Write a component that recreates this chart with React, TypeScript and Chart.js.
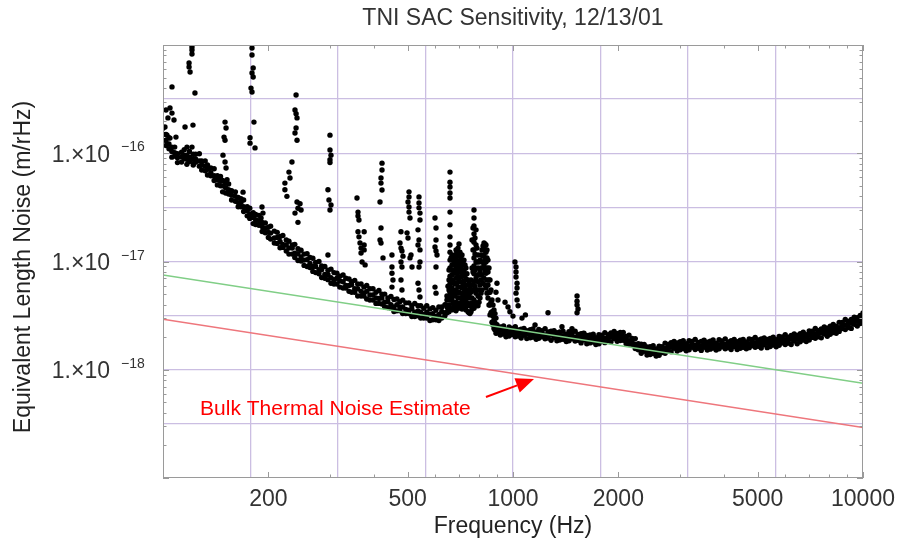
import React, { useEffect, useRef } from "react";
import { Chart, registerables } from "chart.js";

Chart.register(...registerables);

const FONT = '"Liberation Sans", Arial, Helvetica, sans-serif';
// all noise values below are in units of 1e-18 m/rHz
const NOISE_UNIT = 1e-18;

const chartTitle = "TNI SAC Sensitivity, 12/13/01";
const xAxisTitle = "Frequency (Hz)";
const yAxisTitle = "Equivalent Length Noise (m/rHz)";

const xMin = 100;
const xMax = 10000;
const yMin = 1e-19;
const yMax = 1e-15;
const xLabelValues = [200, 500, 1000, 2000, 5000, 10000];
const xGridValues = [177.83, 316.23, 562.34, 1000, 1778.3, 3162.3, 5623.4];
const yGridValues = [3.1623e-19, 1e-18, 3.1623e-18, 1e-17, 3.1623e-17, 1e-16, 3.1623e-16];
const yLabelValues = [1e-16, 1e-17, 1e-18];
const tickMantissas = [1, 2, 3, 4, 5, 6, 7, 8, 9];
const xDecades = [100, 1000, 10000];
const yDecades = [1e-19, 1e-18, 1e-17, 1e-16, 1e-15];

// model lines (in NOISE_UNIT)
const modelFreq = [100, 10000];
const fitNoise = [7.5, 0.75];
const bulkThermalNoise = [2.93, 0.293];

// annotation
const annotationText = "Bulk Thermal Noise Estimate";
const annotationAt = { freq: 127.6, noise: 0.382 };
const arrowFrom = { freq: 837, noise: 0.56 };
const arrowTo = { freq: 1148, noise: 0.82 };

// measured noise floor, 100-200 Hz (three readings per bin)
const lowFreq = [100, 102, 104, 106, 108, 110, 113, 115, 117, 119, 122, 124, 127, 129, 132, 134, 137, 140, 143, 146, 148, 151, 154, 157, 161, 164, 167, 170, 174, 177, 181, 184, 188, 192, 196, 200];
const lowUpper = [170, 149, 139, 114, 114, 99, 102, 108, 96, 104, 98, 98, 99, 85, 85, 78, 73, 72, 62, 61, 56, 53, 52, 45, 44, 39, 38, 37, 32, 31, 28.3, 27.2, 26.7, 22.9, 22.7, 20.7];
const lowCenter = [150, 131, 122, 104, 101, 91, 93, 96, 88, 92, 89, 88, 85, 78, 76, 71, 66, 62, 57, 55, 50, 48, 46, 41, 40, 35, 35, 32, 29.5, 27.5, 25.5, 24.3, 23.8, 21, 20.2, 18.6];
const lowLower = [132, 118, 110, 92, 94, 82, 83, 89, 79, 84, 78, 83, 76, 70, 69, 63, 62, 56, 51, 50, 44, 43, 42, 37, 36, 32, 32, 29, 26.4, 25, 22.4, 22, 21.6, 18.9, 18.4, 16.7];

// measured noise floor, 200-640 Hz (three readings per bin)
const midFreq = [203, 208, 212, 216, 220, 225, 229, 234, 238, 243, 248, 253, 258, 263, 268, 273, 279, 284, 290, 296, 302, 308, 314, 320, 327, 333, 340, 346, 353, 360, 368, 375, 382, 390, 398, 406, 414, 422, 430, 439, 448, 457, 466, 475, 484, 494, 504, 514, 524, 535, 545, 556, 567, 579, 590, 602, 614, 626, 639];
const midUpper = [21.2, 19.1, 18.6, 17.0, 17.4, 15.8, 15.4, 14.2, 14.4, 13.1, 12.7, 11.7, 11.8, 10.9, 10.7, 9.8, 10.0, 9.1, 9.0, 8.3, 8.5, 7.9, 7.8, 7.3, 7.5, 7.0, 6.9, 6.5, 6.7, 6.2, 6.2, 5.8, 6.0, 5.6, 5.6, 5.2, 5.4, 5.0, 5.0, 4.6, 4.75, 4.45, 4.5, 4.25, 4.4, 4.15, 4.15, 3.9, 4.1, 3.9, 3.9, 3.7, 3.9, 3.65, 3.75, 3.55, 3.8, 3.8, 4.0];
const midCenter = [18.3, 16.5, 16.7, 15.3, 14.4, 14.2, 13.3, 13.3, 11.9, 11.8, 11.0, 10.3, 10.4, 9.6, 9.0, 9.0, 8.4, 8.4, 7.6, 7.6, 7.1, 6.8, 7.0, 6.6, 6.5, 6.0, 6.0, 6.1, 5.6, 5.6, 5.3, 5.1, 5.3, 4.9, 4.9, 4.6, 4.55, 4.6, 4.2, 4.25, 4.0, 3.8, 4.0, 3.8, 3.8, 3.6, 3.55, 3.65, 3.4, 3.5, 3.4, 3.25, 3.4, 3.25, 3.3, 3.1, 3.25, 3.45, 3.35];
const midLower = [16.1, 14.8, 14.7, 13.4, 13.5, 12.5, 11.7, 11.7, 10.9, 10.2, 10.1, 9.2, 9.0, 8.8, 8.1, 7.9, 7.7, 7.1, 7.0, 6.8, 6.3, 6.2, 6.2, 5.8, 5.7, 5.7, 5.3, 5.2, 5.2, 4.8, 4.8, 4.8, 4.5, 4.4, 4.4, 4.1, 4.1, 4.05, 3.8, 3.75, 3.7, 3.45, 3.5, 3.5, 3.3, 3.3, 3.3, 3.1, 3.1, 3.15, 3.0, 3.0, 3.0, 2.85, 2.9, 2.9, 2.85, 3.0, 3.15];

// measured noise floor, 900 Hz - 10 kHz (three readings per bin)
const highFreq = [900, 920, 940, 955, 975, 995, 1015, 1035, 1055, 1075, 1095, 1120, 1140, 1165, 1185, 1210, 1235, 1260, 1285, 1310, 1335, 1360, 1390, 1420, 1445, 1475, 1505, 1535, 1565, 1595, 1625, 1660, 1695, 1725, 1760, 1795, 1830, 1870, 1905, 1945, 1985, 2025, 2065, 2105, 2145, 2190, 2235, 2280, 2325, 2370, 2415, 2465, 2515, 2565, 2615, 2665, 2720, 2775, 2830, 2885, 2945, 3005, 3065, 3125, 3185, 3250, 3315, 3380, 3450, 3515, 3590, 3660, 3730, 3805, 3880, 3960, 4040, 4120, 4200, 4285, 4370, 4460, 4545, 4640, 4730, 4825, 4920, 5020, 5120, 5220, 5325, 5430, 5540, 5650, 5760, 5880, 5995, 6115, 6235, 6360, 6485, 6615, 6750, 6885, 7020, 7160, 7305, 7450, 7600, 7750, 7905, 8060, 8220, 8385, 8550, 8725, 8900, 9075, 9255, 9440, 9630, 9820, 10000];
const highUpper = [2.61, 2.48, 2.54, 2.35, 2.48, 2.41, 2.5, 2.33, 2.37, 2.41, 2.3, 2.34, 2.38, 2.22, 2.36, 2.3, 2.39, 2.23, 2.27, 2.3, 2.2, 2.23, 2.27, 2.12, 2.25, 2.19, 2.27, 2.12, 2.15, 2.18, 2.07, 2.1, 2.13, 1.98, 2.11, 2.08, 2.2, 2.11, 2.19, 2.26, 2.17, 2.21, 2.21, 2.03, 2.08, 1.95, 1.94, 1.74, 1.72, 1.71, 1.62, 1.63, 1.67, 1.56, 1.65, 1.63, 1.76, 1.71, 1.78, 1.83, 1.77, 1.82, 1.86, 1.74, 1.86, 1.83, 1.91, 1.79, 1.83, 1.87, 1.8, 1.84, 1.88, 1.76, 1.89, 1.85, 1.93, 1.81, 1.86, 1.9, 1.82, 1.87, 1.91, 1.81, 1.93, 1.9, 1.99, 1.88, 1.93, 1.97, 1.9, 1.95, 2.0, 1.89, 2.03, 2.01, 2.11, 2.0, 2.07, 2.14, 2.07, 2.15, 2.22, 2.11, 2.28, 2.27, 2.41, 2.29, 2.38, 2.48, 2.42, 2.53, 2.62, 2.52, 2.74, 2.73, 2.91, 2.79, 2.92, 3.06, 3.02, 3.17, 3.34];
const highCenter = [2.38, 2.3, 2.31, 2.2, 2.24, 2.28, 2.22, 2.2, 2.17, 2.21, 2.14, 2.12, 2.17, 2.06, 2.13, 2.18, 2.1, 2.08, 2.1, 2.11, 2.03, 2.06, 2.05, 1.98, 2.04, 2.04, 2.0, 1.98, 1.97, 2.0, 1.9, 1.92, 1.96, 1.85, 1.9, 1.93, 1.95, 1.99, 2.0, 2.06, 2.02, 2.03, 2.0, 1.9, 1.86, 1.8, 1.72, 1.62, 1.57, 1.58, 1.5, 1.49, 1.52, 1.46, 1.48, 1.52, 1.57, 1.6, 1.63, 1.68, 1.64, 1.66, 1.7, 1.63, 1.67, 1.7, 1.69, 1.67, 1.66, 1.72, 1.66, 1.68, 1.72, 1.65, 1.7, 1.73, 1.71, 1.69, 1.7, 1.75, 1.68, 1.71, 1.76, 1.69, 1.74, 1.77, 1.78, 1.76, 1.75, 1.82, 1.76, 1.8, 1.83, 1.78, 1.84, 1.88, 1.89, 1.9, 1.91, 1.97, 1.93, 1.99, 2.03, 2.0, 2.08, 2.12, 2.15, 2.16, 2.2, 2.28, 2.26, 2.34, 2.38, 2.37, 2.45, 2.54, 2.6, 2.64, 2.69, 2.8, 2.8, 2.9, 3.05];
const highLower = [2.2, 2.09, 2.14, 2.02, 2.05, 2.12, 2.02, 2.05, 1.96, 2.08, 1.94, 1.97, 2.0, 1.91, 1.95, 2.02, 1.93, 1.96, 1.87, 1.98, 1.85, 1.88, 1.91, 1.82, 1.85, 1.93, 1.84, 1.87, 1.77, 1.88, 1.74, 1.77, 1.8, 1.71, 1.74, 1.83, 1.78, 1.86, 1.81, 1.94, 1.83, 1.86, 1.87, 1.74, 1.72, 1.71, 1.57, 1.53, 1.42, 1.48, 1.37, 1.38, 1.41, 1.34, 1.36, 1.44, 1.42, 1.5, 1.47, 1.58, 1.49, 1.53, 1.57, 1.5, 1.53, 1.61, 1.54, 1.58, 1.51, 1.61, 1.52, 1.55, 1.59, 1.52, 1.56, 1.63, 1.56, 1.6, 1.54, 1.64, 1.54, 1.58, 1.61, 1.56, 1.6, 1.67, 1.61, 1.65, 1.59, 1.7, 1.6, 1.64, 1.69, 1.63, 1.68, 1.77, 1.71, 1.76, 1.71, 1.84, 1.74, 1.81, 1.88, 1.82, 1.88, 1.99, 1.95, 2.02, 1.97, 2.14, 2.04, 2.13, 2.21, 2.17, 2.26, 2.4, 2.35, 2.46, 2.41, 2.63, 2.54, 2.67, 2.81];

// resonance cluster 640-900 Hz: readings per bin
const peakFreq = [643.4, 647.6, 652, 656.3, 660.7, 665, 669.4, 673.7, 678.2, 682.7, 687.3, 691.8, 696.4, 701, 705.6, 710.3, 715, 719.7, 724.4, 729.2, 734, 738.8, 743.7, 748.6, 753.6, 758.6, 763.6, 768.6, 773.7, 778.8, 784, 789.1, 794.3, 799.6, 804.8, 810.2, 815.5, 820.9, 826.3, 831.7, 837.2, 842.7, 848.3, 853.9, 859.5, 865.2, 871, 876.7, 882.5, 888.3, 894.2];
const peakNoise = [
  [3.97, 3.36],
  [4.8, 4.41, 3.8, 3.36],
  [5.9, 4.6, 3.57],
  [8.35, 6.75, 5.46, 3.97, 3.43],
  [67, 54, 48.8, 42.9, 38.6, 28.6, 21.8, 16.9, 14.2, 12.2, 10.3, 8.7, 7.3, 6.2, 5.2, 4.41, 3.7],
  [10.8, 8.35, 6.5, 4.8, 3.64],
  [11.5, 9.3, 7.5, 5.7, 4.41, 3.57],
  [10.8, 8.35, 6.75, 5.2, 4.1],
  [9.9, 8.0, 6.3, 4.9, 3.9],
  [11.5, 9.5, 7.8, 6.2, 4.8, 3.8],
  [12.8, 10.8, 8.7, 7.0, 5.46, 4.2, 3.5],
  [12.2, 9.9, 8.0, 6.3, 5.1, 4.05],
  [13.3, 11.2, 9.1, 7.3, 5.8, 4.6, 3.7],
  [14.5, 11.9, 10.1, 8.35, 6.75, 5.2, 4.1],
  [12.2, 9.9, 8.0, 6.5, 5.1, 4.05],
  [10.8, 8.7, 7.2, 5.8, 4.6, 3.7],
  [11.5, 9.3, 7.3, 5.7, 4.41, 3.64],
  [9.9, 7.8, 6.2, 4.8, 3.9],
  [10.3, 8.35, 6.6, 5.2, 4.1],
  [9.3, 7.5, 5.9, 4.7, 3.7],
  [8.7, 6.9, 5.46, 4.41, 3.57],
  [7.7, 6.07, 4.8, 3.9],
  [6.75, 5.2, 4.1, 3.43],
  [6.2, 4.9, 3.97, 3.36],
  [5.7, 4.6, 3.9, 3.3],
  [6.75, 5.2, 4.1, 3.43],
  [15.8, 8.7, 6.07, 4.6, 3.64],
  [20.4, 12.8, 8.0, 5.46, 4.05],
  [29.9, 25.2, 21.3, 18.0, 15.1, 12.8, 10.8, 9.1, 7.7, 6.5, 5.46, 4.41, 3.7],
  [16.5, 11.7, 8.35, 5.9, 4.2],
  [19.6, 14.2, 9.9, 7.0, 5.1, 3.9],
  [13.3, 9.9, 7.5, 5.46, 4.1],
  [11.5, 8.7, 6.5, 4.8, 3.9],
  [9.9, 7.5, 5.46, 4.2],
  [10.3, 8.0, 6.07, 4.6],
  [11.5, 8.7, 6.75, 5.1],
  [12.8, 9.9, 7.5, 5.46],
  [13.9, 11.2, 8.7, 6.3],
  [14.8, 13.3, 11.5, 9.3, 7.0],
  [14.5, 12.8, 10.3, 8.0, 6.07],
  [14.2, 12.2, 9.9, 7.8, 5.7],
  [12.8, 10.8, 8.7, 6.75, 5.1],
  [10.3, 8.0, 6.07, 4.6],
  [8.7, 6.75, 5.2, 3.97],
  [6.75, 5.2, 3.97, 3.21],
  [5.46, 4.2, 3.36],
  [4.41, 3.43, 2.75],
  [3.97, 3.13, 2.59],
  [3.57, 2.89, 2.4],
  [3.3, 2.7, 2.33],
  [3.0, 2.5, 2.17],
];

// power-line harmonics and outliers: readings per bin
const spikeFreq = [101.3, 102, 102.7, 103.3, 104.7, 106.1, 107.5, 108.9, 115.6, 117.1, 121.8, 121, 118.7, 119.5, 123.4, 122.6, 179.6, 181, 178.4, 181.9, 177.3, 183.2, 150.4, 151.4, 149.4, 148.4, 152.4, 169.3, 191.8, 193, 190.6, 240, 238.3, 241.5, 233.6, 229, 230.6, 223, 226, 243, 246.3, 248, 300, 302, 296, 298, 358.3, 360.7, 363, 365.5, 368, 370.5, 375.6, 378, 422.4, 419.6, 416.9, 425.2, 451, 454, 478.6, 475.5, 481.7, 484.9, 504.5, 501.2, 507.8, 498, 511.2, 514.6, 538.8, 542.3, 535.3, 598.6, 602.6, 606.6, 900, 894, 906, 949, 1013, 1020, 1027, 1034, 967.7, 980, 1000, 1061, 1085, 1156, 1259, 1380, 1524, 1534, 1474, 1585];
const spikeNoise = [
  [175], [251], [147], [212], [262, 138], [410, 235], [203], [141], [175], [114], [182],
  [958, 899, 826, 114], [682, 626], [563], [360], [81],
  [938, 808, 551, 368], [614, 506], [400], [194], [139, 124], [112],
  [194, 132, 83], [171, 73], [141], [96], [57],
  [43.7], [31.9], [28], [25.2],
  [345, 232, 171], [251, 154, 28], [212, 132, 35.5], [83], [67], [59], [53, 46], [40], [31, 23], [34.2], [29.9],
  [147, 107, 87, 82, 29.9], [96, 33.3], [46, 11.5], [37],
  [38.6], [28.6, 26.3, 18.8], [24.2, 16.9], [14.8], [13.3, 12.0], [9.9], [18.8, 14.2, 12.8], [9.3],
  [81, 70, 45.8], [59, 53, 20.4, 14.8], [35.5, 15.8], [10.8],
  [11.5, 8.9, 7.8, 5.8], [6.75],
  [18.8, 13.3, 9.9, 6.75], [14.8], [12.5, 8.9, 5.46], [11.2],
  [44, 39.5, 31.9, 28.6], [35.5, 16.5], [25.2, 10.8], [18.4], [11.5], [8.9],
  [39.5, 34.7, 31.3, 15.8, 8.9, 5.46], [28, 24.2, 12.8, 9.9, 4.7], [19.6, 14.2, 6.3],
  [25.2, 13.6, 5.8], [20.4, 15.8, 12.5, 8.9, 5.1], [11.5],
  [6.3], [5.2], [4.41], [4.2], [9.9], [8.9, 8.0, 7.2, 5.1], [6.3, 5.7, 4.41], [3.9], [3.8], [3.43], [3.13], [3.0], [3.21], [2.59], [3.36], [2.5],
  [4.8, 4.3, 3.97, 3.36], [3.64], [2.4], [2.17],
];

const GRID = "rgb(203,190,226)";
const FRAME = "#9a9a9a";
const GREEN = "rgb(128,206,134)";
const RED = "rgb(238,118,124)";

type Pt = { x: number; y: number };

function buildMeasured(): Pt[] {
  const pts: Pt[] = [];
  const add = (f: number, v: number) => pts.push({ x: f, y: v * NOISE_UNIT });
  lowFreq.forEach((f, i) => { add(f, lowUpper[i]); add(f, lowCenter[i]); add(f, lowLower[i]); });
  midFreq.forEach((f, i) => { add(f, midUpper[i]); add(f, midCenter[i]); add(f, midLower[i]); });
  highFreq.forEach((f, i) => { add(f, highUpper[i]); add(f, highCenter[i]); add(f, highLower[i]); });
  peakFreq.forEach((f, i) => peakNoise[i].forEach((v) => add(f, v)));
  spikeFreq.forEach((f, i) => spikeNoise[i].forEach((v) => add(f, v)));
  return pts;
}

const decorations = {
  id: "decorations",
  afterDraw(chart: any) {
    const { ctx, chartArea: a, scales } = chart;
    const xs = scales.x;
    const ys = scales.y;
    ctx.save();
    // frame
    ctx.strokeStyle = FRAME;
    ctx.lineWidth = 1;
    ctx.strokeRect(a.left + 0.5, a.top + 0.5, a.right - a.left - 1, a.bottom - a.top - 1);
    // frame ticks
    ctx.beginPath();
    xDecades.forEach((d) => {
      tickMantissas.forEach((m) => {
        const v = d * m;
        if (v < xMin || v > xMax) return;
        const px = Math.round(xs.getPixelForValue(v)) + 0.5;
        const len = xLabelValues.includes(v) ? 6 : 3.5;
        ctx.moveTo(px, a.bottom);
        ctx.lineTo(px, a.bottom - len);
        ctx.moveTo(px, a.top);
        ctx.lineTo(px, a.top + len);
      });
    });
    yDecades.forEach((d) => {
      tickMantissas.forEach((m) => {
        const v = d * m;
        if (v < yMin * 0.999 || v > yMax * 1.001) return;
        const py = Math.round(ys.getPixelForValue(v)) + 0.5;
        const len = m === 1 ? 6 : 3.5;
        ctx.moveTo(a.left, py);
        ctx.lineTo(a.left + len, py);
        ctx.moveTo(a.right, py);
        ctx.lineTo(a.right - len, py);
      });
    });
    ctx.stroke();

    // y tick labels: 1.x10^-n
    ctx.fillStyle = "#333";
    yLabelValues.forEach((v) => {
      const py = ys.getPixelForValue(v);
      const exp = Math.round(Math.log10(v));
      ctx.font = `23px ${FONT}`;
      ctx.textAlign = "right";
      ctx.textBaseline = "alphabetic";
      ctx.fillText("1.\u00d710", a.left - 53, py + 8.3);
      ctx.font = `14px ${FONT}`;
      ctx.textAlign = "left";
      ctx.fillText(`\u2212${-exp}`, a.left - 42, py - 2);
    });

    // y axis title
    ctx.save();
    ctx.translate(23.5, 267);
    ctx.rotate(-Math.PI / 2);
    ctx.font = `23px ${FONT}`;
    ctx.fillStyle = "#222";
    ctx.textAlign = "center";
    ctx.textBaseline = "middle";
    ctx.fillText(yAxisTitle, 0, 0);
    ctx.restore();

    // annotation
    ctx.fillStyle = "#ff0000";
    ctx.strokeStyle = "#ff0000";
    ctx.font = `21px ${FONT}`;
    ctx.textAlign = "left";
    ctx.textBaseline = "alphabetic";
    ctx.fillText(
      annotationText,
      xs.getPixelForValue(annotationAt.freq),
      ys.getPixelForValue(annotationAt.noise * NOISE_UNIT)
    );
    const x0 = xs.getPixelForValue(arrowFrom.freq);
    const y0 = ys.getPixelForValue(arrowFrom.noise * NOISE_UNIT);
    const x1 = xs.getPixelForValue(arrowTo.freq);
    const y1 = ys.getPixelForValue(arrowTo.noise * NOISE_UNIT);
    const ang = Math.atan2(y1 - y0, x1 - x0);
    const hl = 18;
    const hw = 7.5;
    const bx = x1 - hl * Math.cos(ang);
    const by = y1 - hl * Math.sin(ang);
    ctx.lineWidth = 2;
    ctx.beginPath();
    ctx.moveTo(x0, y0);
    ctx.lineTo(bx, by);
    ctx.stroke();
    ctx.beginPath();
    ctx.moveTo(x1, y1);
    ctx.lineTo(bx + hw * Math.sin(ang), by - hw * Math.cos(ang));
    ctx.lineTo(bx - hw * Math.sin(ang), by + hw * Math.cos(ang));
    ctx.closePath();
    ctx.fill();
    ctx.restore();
  },
};

export default function App() {
  const ref = useRef<HTMLCanvasElement | null>(null);

  useEffect(() => {
    if (!ref.current) return;
    const xTickValues = Array.from(new Set([...xGridValues, ...xLabelValues])).sort((p, q) => p - q);
    const chart = new Chart(ref.current, {
      type: "scatter",
      data: {
        datasets: [
          {
            label: "Fit",
            data: modelFreq.map((f, i) => ({ x: f, y: fitNoise[i] * NOISE_UNIT })),
            showLine: true,
            borderColor: GREEN,
            backgroundColor: GREEN,
            borderWidth: 1.5,
            pointRadius: 0,
            order: 0,
          },
          {
            label: "Bulk Thermal Noise Estimate",
            data: modelFreq.map((f, i) => ({ x: f, y: bulkThermalNoise[i] * NOISE_UNIT })),
            showLine: true,
            borderColor: RED,
            backgroundColor: RED,
            borderWidth: 1.5,
            pointRadius: 0,
            order: 0,
          },
          {
            label: "Measured",
            data: buildMeasured(),
            pointRadius: 2.7,
            pointBorderWidth: 0,
            borderWidth: 0,
            backgroundColor: "#000",
            borderColor: "#000",
            pointBackgroundColor: "#000",
            order: 1,
          },
        ],
      },
      options: {
        animation: false,
        responsive: false,
        maintainAspectRatio: false,
        events: [],
        layout: { padding: { left: 0, right: 36, top: 0, bottom: 0 } },
        plugins: {
          legend: { display: false },
          tooltip: { enabled: false },
          title: {
            display: true,
            text: chartTitle,
            fullSize: false,
            color: "#333",
            font: { family: FONT, size: 23, weight: "normal", lineHeight: 1.2 },
            padding: { top: 5, bottom: 12.4 },
          },
        },
        scales: {
          x: {
            type: "logarithmic",
            position: "bottom",
            min: xMin,
            max: xMax,
            afterBuildTicks: (s: any) => {
              s.ticks = xTickValues.map((v) => ({ value: v }));
            },
            afterFit: (s: any) => {
              s.height = 62;
              s.paddingLeft = 0;
              s.paddingRight = 0;
            },
            ticks: {
              autoSkip: false,
              maxRotation: 0,
              minRotation: 0,
              padding: 8,
              color: "#333",
              font: { family: FONT, size: 23 },
              callback: (v: any) => (xLabelValues.includes(Number(v)) ? String(v) : ""),
            },
            grid: {
              drawTicks: false,
              lineWidth: 1.3,
              color: (c: any) => (c.tick && xGridValues.includes(c.tick.value) ? GRID : "rgba(0,0,0,0)"),
            },
            border: { display: false },
            title: {
              display: true,
              text: xAxisTitle,
              color: "#222",
              font: { family: FONT, size: 23 },
              padding: { top: 0, bottom: 0 },
            },
          },
          y: {
            type: "logarithmic",
            position: "left",
            min: yMin,
            max: yMax,
            afterBuildTicks: (s: any) => {
              s.ticks = yGridValues.map((v) => ({ value: v }));
            },
            afterFit: (s: any) => {
              s.width = 163;
              s.paddingTop = 0;
              s.paddingBottom = 0;
            },
            ticks: { display: false },
            grid: { drawTicks: false, color: GRID, lineWidth: 1.3 },
            border: { display: false },
          },
        },
      },
      plugins: [decorations],
    } as any);
    return () => chart.destroy();
  }, []);

  return (
    <div style={{ position: "fixed", left: 0, top: 0, width: 899, height: 540, background: "#fff" }}>
      <canvas ref={ref} width={899} height={540} style={{ display: "block" }} />
    </div>
  );
}
